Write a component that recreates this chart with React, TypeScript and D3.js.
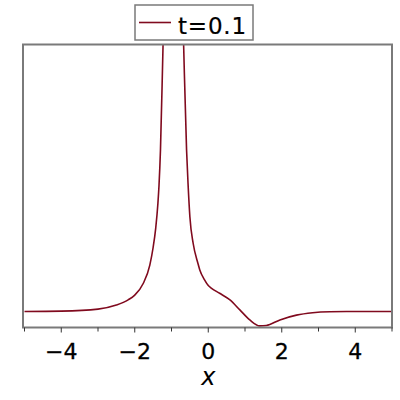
import React, { useRef, useEffect } from "react";
import * as d3 from "d3";

// values (t = 0.1)
const xVals = [
  -5, -4, -3, -2.5, -2.18, -2, -1.77, -1.59, -1.5, -1.43, -1.37, -1.34, -1.3, -1.23, -1.15, -0.94,
  -0.75, -0.67, -0.59, -0.55, -0.5, -0.41, -0.28, -0.23, -0.1, -0.01, 0.09, 0.31, 0.59, 0.86,
  1.13, 1.4, 1.58, 1.95, 2.4, 2.84, 3.31, 3.76, 5,
];
const uVals = [
  0, 0.01, 0.06, 0.16, 0.29, 0.41, 0.7, 1.16, 1.6, 2.08, 2.7, 3.15, 4.04, 6.66, 9.5, 14,
  9.5, 6.66, 4.04, 3.2, 2.37, 1.7, 1.2, 1.04, 0.79, 0.66, 0.58, 0.455, 0.29, 0.04,
  -0.21, -0.36, -0.35, -0.21, -0.09, -0.03, -0.005, 0, 0,
];
const majorTicks = [-4, -2, 0, 2, 4];
const minorTicks = [-5, -3, -1, 1, 3, 5];
const legendLabel = "t=0.1";
const xLabel = "x";

function App() {
  const svgRef = useRef<SVGSVGElement>(null);

  useEffect(() => {
    d3.select(svgRef.current).selectAll("*").remove();

    const width = 400;
    const height = 400;
    const left = 24.5;
    const right = 392;
    const top = 44.5;
    const bottom = 327.5;
    const frame = "#7a7a7a";
    const lineColor = "#800a1e";

    const svg = d3.select(svgRef.current)
      .attr("width", width)
      .attr("height", height);

    svg.append("rect")
      .attr("width", width)
      .attr("height", height)
      .attr("fill", "white");

    // scales
    const xScale = d3.scaleLinear().domain([-5, 5]).range([left, right]);
    const yScale = d3.scaleLinear().domain([-0.4, 6.675]).range([bottom, top]);

    svg.append("clipPath")
      .attr("id", "plot-clip")
      .append("rect")
      .attr("x", left - 2)
      .attr("y", top)
      .attr("width", right - left + 2)
      .attr("height", bottom - top);

    const points: [number, number][] = xVals.map((x, i) => [x, uVals[i]]);
    const line = d3.line<[number, number]>()
      .x(d => xScale(d[0]))
      .y(d => yScale(d[1]))
      .curve(d3.curveMonotoneX);

    svg.append("path")
      .datum(points)
      .attr("d", line)
      .attr("fill", "none")
      .attr("stroke", lineColor)
      .attr("stroke-width", 1.6)
      .attr("clip-path", "url(#plot-clip)");

    // frame
    svg.append("path")
      .attr("d", `M${left - 1.5},${bottom} V${top} H${right} V${bottom}`)
      .attr("fill", "none")
      .attr("stroke", frame)
      .attr("stroke-width", 2);

    // x axis
    const axis = svg.append("g");
    axis.append("line")
      .attr("x1", left - 2.5)
      .attr("x2", right + 1)
      .attr("y1", bottom)
      .attr("y2", bottom)
      .attr("stroke", frame)
      .attr("stroke-width", 2);

    axis.selectAll(".major")
      .data(majorTicks)
      .join("line")
      .attr("class", "major")
      .attr("x1", d => xScale(d))
      .attr("x2", d => xScale(d))
      .attr("y1", bottom)
      .attr("y2", bottom + 5)
      .attr("stroke", "#333")
      .attr("stroke-width", 1);

    axis.selectAll(".minor")
      .data(minorTicks)
      .join("line")
      .attr("class", "minor")
      .attr("x1", d => xScale(d))
      .attr("x2", d => xScale(d))
      .attr("y1", bottom)
      .attr("y2", bottom + 4)
      .attr("stroke", "#333")
      .attr("stroke-width", 1);

    axis.selectAll(".tick-label")
      .data(majorTicks)
      .join("text")
      .attr("class", "tick-label")
      .attr("x", d => xScale(d))
      .attr("y", 358.5)
      .attr("text-anchor", "middle")
      .attr("font-family", "DejaVu Sans")
      .attr("font-size", 22)
      .attr("fill", "black")
      .attr("stroke", "black")
      .attr("stroke-width", 0.3)
      .text(d => (d < 0 ? "\u2212" + Math.abs(d) : String(d)));

    svg.append("text")
      .attr("x", xScale(0))
      .attr("y", 385)
      .attr("text-anchor", "middle")
      .attr("font-family", "DejaVu Sans")
      .attr("font-style", "italic")
      .attr("font-size", 24)
      .attr("fill", "black")
      .text(xLabel);

    // legend
    const legend = svg.append("g");
    legend.append("rect")
      .attr("x", 135)
      .attr("y", 5)
      .attr("width", 118)
      .attr("height", 35)
      .attr("fill", "white")
      .attr("stroke", frame)
      .attr("stroke-width", 1.5);
    legend.append("line")
      .attr("x1", 139)
      .attr("x2", 171)
      .attr("y1", 22.5)
      .attr("y2", 22.5)
      .attr("stroke", lineColor)
      .attr("stroke-width", 1.6);
    legend.append("text")
      .attr("x", 178)
      .attr("y", 33.5)
      .attr("font-family", "DejaVu Sans")
      .attr("font-size", 23)
      .attr("letter-spacing", 0.8)
      .attr("fill", "black")
      .attr("stroke", "black")
      .attr("stroke-width", 0.2)
      .text(legendLabel);
  }, []);

  return (
    <div>
      <svg ref={svgRef} style={{ position: "absolute", left: 0, top: 0 }}></svg>
    </div>
  );
}

export default App;
